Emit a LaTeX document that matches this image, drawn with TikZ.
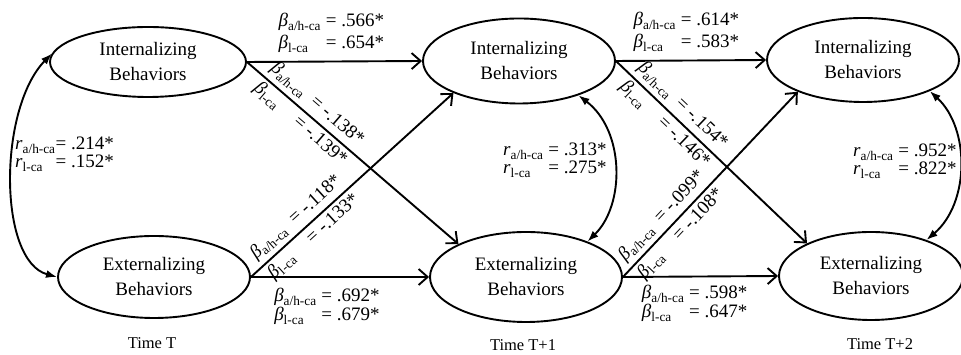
\documentclass[tikz,border=0pt]{standalone}
\usepackage{fontspec}
\setmainfont{Liberation Serif}
\usetikzlibrary{arrows.meta,positioning,shapes.geometric}

\newcommand{\betasub}[1]{\textit{β}\textsubscript{#1}}
\newcommand{\rsub}[1]{\textit{r}\textsubscript{#1}}

\begin{document}
\begin{tikzpicture}[x=1pt,y=1pt,
    beh/.style={ellipse,draw,line width=1.9pt,inner sep=0pt,minimum width=192pt,
      minimum height=84pt,align=center,font=\fontsize{19}{25}\selectfont},
    arr/.style={line width=1.9pt,-{Straight Barb[length=9pt,width=16pt]}},
    cov/.style={line width=1.9pt,{Latex[length=11pt,width=8pt]}-{Latex[length=11pt,width=8pt]}},
    coef/.style={inner sep=1pt,font=\fontsize{19}{20}\selectfont},
    tlab/.style={font=\fontsize{16.5}{18}\selectfont}]
  \useasboundingbox (0,0) rectangle (961,355);

  % latent variables per wave
  \node[beh,minimum width=196pt,minimum height=70pt] (it0) at (148,293) {Internalizing\\Behaviors};
  \node[beh,minimum height=82pt] (et0) at (154,78) {Externalizing\\Behaviors};
  \node[beh,minimum height=85pt] (it1) at (519,294) {Internalizing\\Behaviors};
  \node[beh,minimum height=90pt] (et1) at (526,78) {Externalizing\\Behaviors};
  \node[beh] (it2) at (863,295) {Internalizing\\Behaviors};
  \node[beh,minimum width=184pt,minimum height=88pt] (et2) at (871,79) {Externalizing\\Behaviors};

  \node[tlab] (tt0) at (152,12) {Time T};
  \node[tlab] (tt1) at (523,10) {Time T+1};
  \node[tlab] (tt2) at (880,11) {Time T+2};

  % stability paths
  \draw[arr] (it0.east) -- (it1.west) node[coef,pos=0.17,anchor=south west,yshift=5pt]
    {\begin{tabular}{@{}l@{ }l@{}}\betasub{a/h-ca} & = .566*\\[2pt] \betasub{l-ca} & = .654*\end{tabular}};
  \draw[arr] (et0.east) -- (et1.west) node[coef,pos=0.12,anchor=north west,yshift=-9pt]
    {\begin{tabular}{@{}l@{ }l@{}}\betasub{a/h-ca} & = .692*\\[-1pt] \betasub{l-ca} & = .679*\end{tabular}};
  \draw[arr] (it1.east) -- (it2.west) node[coef,pos=0.105,anchor=south west,yshift=5pt]
    {\begin{tabular}{@{}l@{ }l@{}}\betasub{a/h-ca} & = .614*\\[2pt] \betasub{l-ca} & = .583*\end{tabular}};
  \draw[arr] (et1.east) -- (et2.west) node[coef,pos=0.11,anchor=north west,yshift=-6pt]
    {\begin{tabular}{@{}l@{ }l@{}}\betasub{a/h-ca} & = .598*\\[-1pt] \betasub{l-ca} & = .647*\end{tabular}};

  % cross-lagged paths
  \draw[arr] (it0.east) -- (et1.154) node[coef,sloped,pos=0.29]
    {\begin{tabular}{@{}l@{\ \ }l@{}}\betasub{a/h-ca} & = -.138*\\[6pt] \betasub{l-ca} & = -.139*\end{tabular}};
  \draw[arr] (et0.east) -- (it1.206) node[coef,sloped,pos=0.27]
    {\begin{tabular}{@{}l@{\ \ }l@{}}\betasub{a/h-ca} & = -.118*\\[6pt] \betasub{l-ca} & = -.133*\end{tabular}};
  \draw[arr] (it1.east) -- (et2.153) node[coef,sloped,pos=0.3]
    {\begin{tabular}{@{}l@{\ \ }l@{}}\betasub{a/h-ca} & = -.154*\\[6pt] \betasub{l-ca} & = -.146*\end{tabular}};
  \draw[arr] (et1.east) -- (it2.206) node[coef,sloped,pos=0.28]
    {\begin{tabular}{@{}l@{\ \ }l@{}}\betasub{a/h-ca} & = -.099*\\[6pt] \betasub{l-ca} & = -.108*\end{tabular}};

  % within-wave correlations
  \draw[cov] (it0.175) .. controls (-2,246) and (-2,94) .. (et0.west);
  \draw[cov] (it1.-30) .. controls (625,224) and (625,150) .. (et1.30);
  \draw[cov] (it2.-25) .. controls (970,227) and (970,152) .. (et2.33);

  \node[coef,anchor=west] (c0) at (14,200)
    {\begin{tabular}{@{}l@{}l@{}}\rsub{a/h-ca} & = .214*\\[-2pt] \rsub{l-ca} & = .152*\end{tabular}};
  \node[coef,anchor=west] (c1) at (502,194)
    {\begin{tabular}{@{}l@{ }l@{}}\rsub{a/h-ca} & = .313*\\[-2pt] \rsub{l-ca} & = .275*\end{tabular}};
  \node[coef,anchor=west] (c2) at (852,193)
    {\begin{tabular}{@{}l@{ }l@{}}\rsub{a/h-ca} & = .952*\\[-2pt] \rsub{l-ca} & = .822*\end{tabular}};
\end{tikzpicture}
\end{document}
